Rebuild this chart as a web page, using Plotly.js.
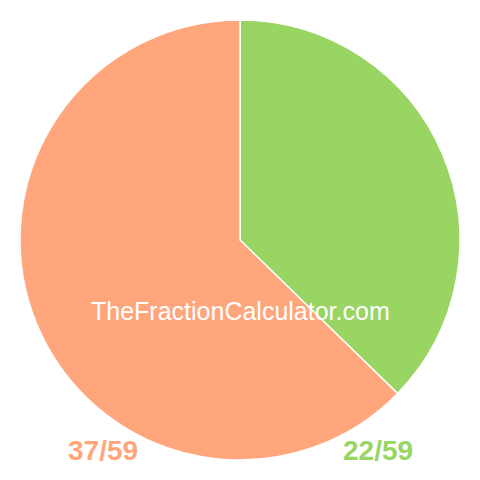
<!DOCTYPE html>
<html>
<head>
<meta charset="utf-8">
<script src="https://cdn.plot.ly/plotly-3.0.1.min.js"></script>
<style>
  html, body { margin: 0; padding: 0; background: #fff; }
  #chart { width: 480px; height: 480px; }
</style>
</head>
<body>
<div id="chart"></div>
<script>
var fractionLabels = ["22/59", "37/59"];
var fractionValues = [22, 37];
var sliceColors = ["#98D563", "#FFA67C"];

var data = [{
  type: "pie",
  values: fractionValues,
  labels: fractionLabels,
  sort: false,
  direction: "clockwise",
  rotation: 0,
  textinfo: "none",
  hoverinfo: "none",
  marker: { colors: sliceColors, line: { color: "#ffffff", width: 1.5 } },
  domain: { x: [20/480, 460/480], y: [20/480, 460/480] }
}];

var layout = {
  width: 480, height: 480,
  margin: { l: 0, r: 0, t: 0, b: 0 },
  showlegend: false,
  paper_bgcolor: "#ffffff",
  font: { family: "Liberation Sans, Arial, sans-serif" },
  annotations: [
    { text: "TheFractionCalculator.com", x: 240/480, y: 1 - 311/480, xref: "paper", yref: "paper",
      xanchor: "center", yanchor: "middle",
      showarrow: false, font: { size: 25, color: "#ffffff" } },
    { text: "<b>" + fractionLabels[1] + "</b>", x: 103/480, y: 1 - 450/480, xref: "paper", yref: "paper",
      xanchor: "center", yanchor: "middle",
      showarrow: false, font: { size: 28, color: sliceColors[1] } },
    { text: "<b>" + fractionLabels[0] + "</b>", x: 378/480, y: 1 - 450/480, xref: "paper", yref: "paper",
      xanchor: "center", yanchor: "middle",
      showarrow: false, font: { size: 28, color: sliceColors[0] } }
  ]
};

Plotly.newPlot("chart", data, layout, { staticPlot: true, displayModeBar: false });
</script>
</body>
</html>
